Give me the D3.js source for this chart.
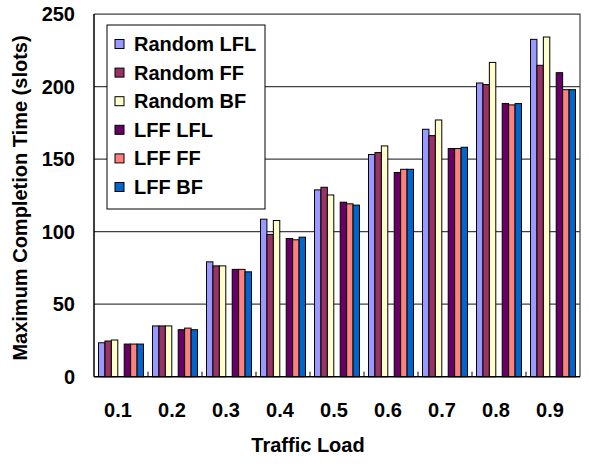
<!DOCTYPE html>
<html><head><meta charset="utf-8">
<script src="https://cdn.jsdelivr.net/npm/d3@7/dist/d3.min.js"></script>
<style>
html,body{margin:0;padding:0;background:#fff;}
text{font-family:"Liberation Sans",Arial,sans-serif;font-weight:bold;fill:#000;}
</style></head>
<body>
<svg id="chart" width="589" height="468"></svg>
<script>
const categories = ["0.1","0.2","0.3","0.4","0.5","0.6","0.7","0.8","0.9"];
const seriesNames = ["Random LFL","Random FF","Random BF","LFF LFL","LFF FF","LFF BF"];
const randomLFL = [23.4, 35.0, 79.2, 108.6, 128.8, 153.2, 170.6, 202.5, 232.6];
const randomFF  = [24.6, 35.0, 76.4,  98.1, 130.6, 154.5, 166.2, 201.4, 214.7];
const randomBF  = [25.3, 35.0, 76.4, 107.7, 125.3, 159.1, 177.0, 216.7, 234.2];
const lffLFL    = [22.5, 32.4, 74.0,  95.3, 120.3, 140.8, 157.3, 188.3, 209.6];
const lffFF     = [22.5, 33.5, 74.0,  94.4, 119.2, 143.0, 157.3, 187.4, 197.9];
const lffBF     = [22.5, 32.4, 72.3,  96.2, 118.3, 143.0, 158.2, 188.3, 197.9];
const yTicks = [0, 50, 100, 150, 200, 250];
const colors = ["#9999FF","#993366","#FFFFCC","#660066","#FF8080","#0066CC"];
const seriesValues = [randomLFL, randomFF, randomBF, lffLFL, lffFF, lffBF];
const slotIndex = [0,1,2,4,5,6];

const svg = d3.select("#chart");
const L = 94, R = 580, T = 14.1, B = 376.7;
const FS = "20px";

const x0 = d3.scaleBand().domain(categories).range([L, R]).paddingInner(0).paddingOuter(0);
const x1 = d3.scaleBand().domain(d3.range(7)).range([0, x0.bandwidth()]).paddingInner(0).paddingOuter(0.7);
const y = d3.scaleLinear().domain([0, 250]).range([B, T]);

svg.append("g").selectAll("line").data(yTicks.filter(d => d > 0 && d < 250)).join("line")
  .attr("x1", L).attr("x2", R).attr("y1", d => y(d)).attr("y2", d => y(d))
  .attr("stroke", "#404040").attr("stroke-width", 1.2);

svg.append("path").attr("d", `M${L},${T}H${R}V${B}`).attr("fill","none").attr("stroke","#404040").attr("stroke-width",1.2);

const groups = svg.append("g").selectAll("g").data(categories).join("g")
  .attr("transform", d => `translate(${x0(d)},0)`);
groups.selectAll("rect").data((c, i) => seriesValues.map((s, k) => ({k, v: s[i]}))).join("rect")
  .attr("x", d => x1(slotIndex[d.k]))
  .attr("width", x1.bandwidth())
  .attr("y", d => y(d.v))
  .attr("height", d => B - y(d.v))
  .attr("fill", d => colors[d.k])
  .attr("stroke", "#000").attr("stroke-width", 1);

svg.append("line").attr("x1", L).attr("x2", L).attr("y1", T).attr("y2", B).attr("stroke","#000").attr("stroke-width",1.5);
svg.append("line").attr("x1", L).attr("x2", R).attr("y1", B).attr("y2", B).attr("stroke","#000").attr("stroke-width",1.5);
svg.append("g").selectAll("line").data(categories.slice(1)).join("line")
  .attr("x1", d => x0(d)).attr("x2", d => x0(d)).attr("y1", B).attr("y2", B - 5)
  .attr("stroke","#000").attr("stroke-width",1);

svg.append("g").selectAll("text").data(yTicks).join("text")
  .attr("x", 75).attr("y", d => y(d)).attr("dy", "0.35em").attr("text-anchor","end")
  .style("font-size",FS).text(d => d);

svg.append("g").selectAll("text").data(categories).join("text")
  .attr("x", d => x0(d) + x0.bandwidth()/2 - 3).attr("y", 410).attr("dy","0.35em").attr("text-anchor","middle")
  .style("font-size",FS).text(d => d);

svg.append("text").attr("x", 308).attr("y", 445).attr("dy","0.35em").attr("text-anchor","middle")
  .style("font-size",FS).text("Traffic Load");
svg.append("text").attr("transform", "translate(20,198) rotate(-90)").attr("dy","0.35em").attr("text-anchor","middle")
  .style("font-size",FS).text("Maximum Completion Time (slots)");

const lg = svg.append("g");
lg.append("rect").attr("x",107).attr("y",25).attr("width",158).attr("height",184).attr("fill","#fff").attr("stroke","#000").attr("stroke-width",1);
const items = lg.selectAll("g").data(seriesNames).join("g").attr("transform",(d,i)=>`translate(0,${44 + i*28.6})`);
items.append("rect").attr("x",115).attr("y",-4.5).attr("width",9).attr("height",9)
  .attr("fill",(d,i)=>colors[i]).attr("stroke","#000").attr("stroke-width",1);
items.append("text").attr("x",134).attr("y",0).attr("dy","0.35em").style("font-size",FS).text(d=>d);
</script>
</body></html>
